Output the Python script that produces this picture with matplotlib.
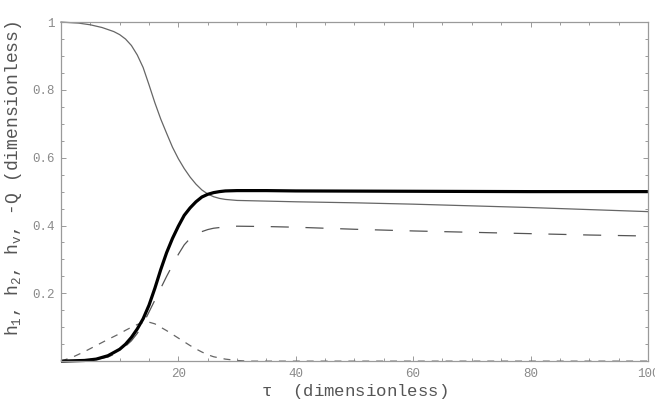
import matplotlib
matplotlib.use("Agg")
import matplotlib.pyplot as plt
from matplotlib.ticker import MultipleLocator, FixedLocator
from matplotlib.transforms import Bbox

# ── data ─────────────────────────────────────────────────────────────────────
tau_thin = [0, 3, 5, 7, 8, 9, 10, 11, 12, 13, 14, 15, 16, 17, 18, 19, 20, 21,
            22, 23, 24, 25, 26, 27, 28, 30, 35, 40, 50, 60, 70, 80, 90, 100]
h_thin = [1.0, 0.997, 0.992, 0.984, 0.978, 0.972, 0.963, 0.95, 0.931, 0.903,
          0.866, 0.815, 0.762, 0.714, 0.672, 0.631, 0.597, 0.568, 0.543,
          0.522, 0.505, 0.493, 0.485, 0.48, 0.477, 0.474, 0.472, 0.47, 0.467,
          0.463, 0.458, 0.453, 0.447, 0.441]

tau_thick = [0, 4, 6, 8, 10, 11, 12, 13, 14, 15, 16, 17, 18, 19, 20, 21, 22,
             23, 24, 25, 26, 27, 28, 30, 35, 40, 60, 80, 100]
h_thick = [0, 0.002, 0.006, 0.016, 0.035, 0.05, 0.07, 0.095, 0.125, 0.165,
           0.215, 0.27, 0.32, 0.362, 0.398, 0.43, 0.452, 0.47, 0.484, 0.492,
           0.497, 0.5, 0.502, 0.503, 0.503, 0.502, 0.501, 0.5, 0.5]

tau_long = [0, 5, 8, 10, 12, 13, 14, 15, 16, 17, 18, 19, 20, 21, 22, 23, 24,
            25, 26, 28, 30, 35, 40, 50, 60, 70, 80, 90, 100]
h_long = [0, 0.002, 0.012, 0.028, 0.06, 0.082, 0.11, 0.145, 0.18, 0.215, 0.25,
          0.283, 0.315, 0.343, 0.362, 0.374, 0.382, 0.388, 0.392, 0.396, 0.398,
          0.397, 0.395, 0.389, 0.384, 0.38, 0.376, 0.372, 0.369]

tau_short = [0, 2, 4, 6, 8, 10, 11, 12, 13, 14, 15, 16, 17, 18, 19, 20, 21, 22,
             23, 24, 25, 26, 28, 30, 32, 40, 60, 80, 100]
q_short = [0, 0.012, 0.028, 0.046, 0.064, 0.081, 0.091, 0.1, 0.108, 0.114,
           0.115, 0.11, 0.1, 0.09, 0.079, 0.068, 0.057, 0.046, 0.036, 0.027,
           0.019, 0.013, 0.006, 0.002, 0.0, 0, 0, 0, 0]

x_ticks = [20, 40, 60, 80, 100]
y_ticks = [0.2, 0.4, 0.6, 0.8, 1.0]
y_tick_labels = ["0.2", "0.4", "0.6", "0.8", "1"]

# ── style ────────────────────────────────────────────────────────────────────
plt.rcParams["font.family"] = ["Liberation Mono", "DejaVu Sans Mono"]
plt.rcParams["mathtext.fontset"] = "custom"
plt.rcParams["mathtext.rm"] = "Liberation Mono"
plt.rcParams["mathtext.it"] = "Liberation Mono"
plt.rcParams["lines.scale_dashes"] = False

FRAME = "#9a9a9a"
TICKTXT = "#8a8a8a"
LABEL = "#555555"

fig = plt.figure(figsize=(6.70, 4.09), dpi=100)
ax = fig.add_axes([0.091, 0.117, 0.876, 0.829])

ax.plot(tau_thin, h_thin, color="#666666", lw=0.9, clip_on=False)
ax.plot(tau_long, h_long, color="#555555", lw=0.9, dashes=(13, 12),
        clip_on=False)
ax.plot(tau_short, q_short, color="#666666", lw=0.9, dashes=(5, 5),
        clip_on=False)
ax.plot(tau_thick, h_thick, color="black", lw=2.3, clip_on=False,
        solid_capstyle="butt")

ax.set_xlim(0, 100)
ax.set_ylim(0, 1)

for sp in ax.spines.values():
    sp.set_color(FRAME)
    sp.set_linewidth(0.9)

ax.xaxis.set_major_locator(FixedLocator(x_ticks))
ax.xaxis.set_minor_locator(MultipleLocator(5))
ax.yaxis.set_major_locator(FixedLocator(y_ticks))
ax.yaxis.set_minor_locator(MultipleLocator(0.05))
ax.set_yticklabels(y_tick_labels)

ax.tick_params(which="both", direction="in", top=True, right=True,
               color=FRAME, width=0.7, labelcolor=TICKTXT, labelsize=9)
ax.tick_params(which="major", length=3.5)
ax.tick_params(which="minor", length=2.2)
ax.tick_params(axis="x", pad=5)
ax.tick_params(axis="y", pad=4.5)

ax.set_xlabel(r"$\tau$  (dimensionless)", fontsize=12.5, color=LABEL)
ax.xaxis.set_label_coords(0.5, -0.062)
ax.set_ylabel(r"$\mathrm{h}_1$, $\mathrm{h}_2$, $\mathrm{h}_v$, -Q (dimensionless)",
              fontsize=13, color=LABEL)
ax.yaxis.set_label_coords(-0.063, 0.54)

# the "100" label is cut off by the right edge of the original picture
for lab in ax.get_xticklabels():
    lab.set_clip_box(Bbox([[0, 0], [655, 409]]))
    lab.set_clip_on(True)

fig.savefig("out.png", dpi=100, facecolor="white")
